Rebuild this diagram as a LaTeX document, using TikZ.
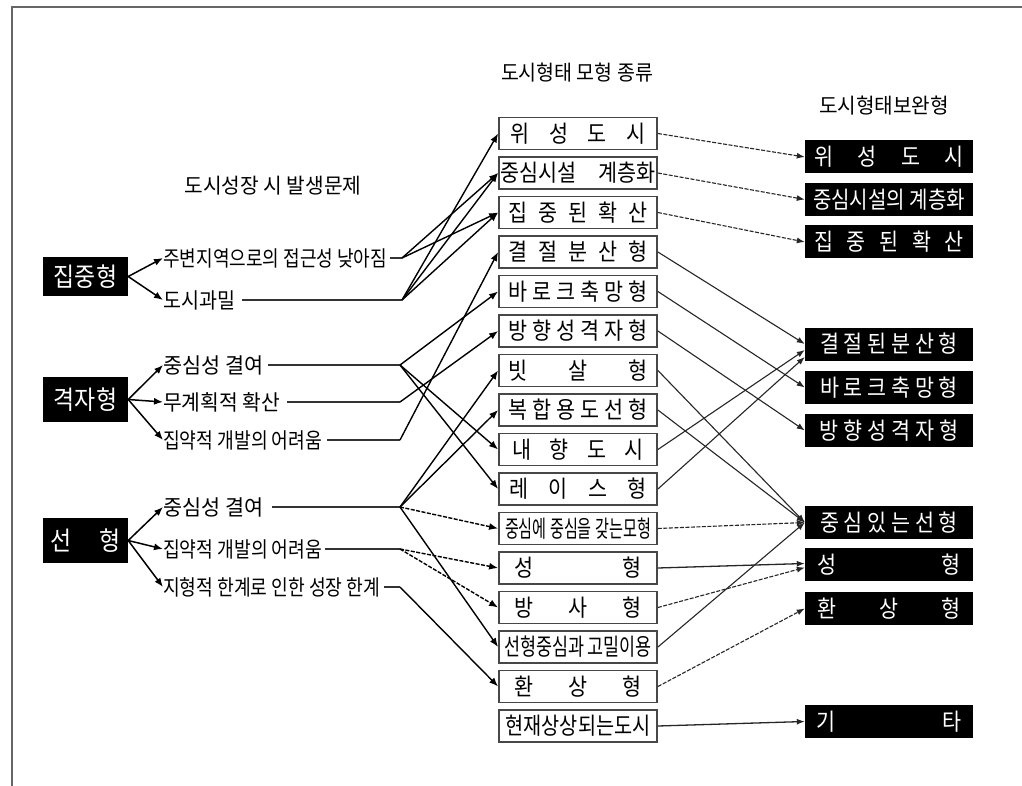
\documentclass[tikz,border=0pt]{standalone}
\usepackage{fontspec}
\usepackage{graphicx}
\setmainfont{Noto Sans CJK KR}[FakeStretch=0.88]
\usetikzlibrary{arrows.meta}
\newcommand\fw[2]{\resizebox{#1}{\height}{#2}}
\begin{document}
\begin{tikzpicture}[x=1pt,y=-1pt,
  cat/.style={fill=black,text=white,inner sep=0pt,minimum width=85pt,font=\fontsize{26}{28}\selectfont},
  prob/.style={inner sep=0pt,anchor=west,font=\fontsize{21.5}{24}\selectfont},
  ttl/.style={inner sep=0pt,font=\fontsize{21}{23}\selectfont},
  mid/.style={draw=black!72,line width=1.8pt,minimum width=158pt,minimum height=32pt,inner sep=0pt,font=\fontsize{23.5}{25}\selectfont},
  rb/.style={fill=black,text=white,minimum width=168pt,minimum height=33pt,inner sep=0pt,font=\fontsize{23.5}{25}\selectfont},
  la/.style={line width=1.5pt,-{Latex[length=9pt,width=7pt]}},
  hl/.style={line width=1.5pt,black!80},
  fa/.style={line width=1.4pt,-{Latex[length=9pt,width=7pt]}},
  ra/.style={line width=1.1pt,black!85,-{Latex[length=8pt,width=6pt]}},
  dsh/.style={dash pattern=on 4pt off 1.5pt}
]
\useasboundingbox (0,0) rectangle (1022,786);
\fill[white] (0,0) rectangle (1022,786);
\draw[black!60,line width=1.2pt] (12,786) -- (12,7) -- (1022,7);

% titles
\node[ttl] (t1) at (577,73) {\fw{152pt}{도시형태 모형 종류}};
\node[ttl] (t2) at (884,106) {\fw{130pt}{도시형태보완형}};
\node[ttl] (t3) at (273,186) {\fw{177pt}{도시성장 시 발생문제}};

% categories
\node[cat,minimum height=38pt] (c1) at (85.5,276.5) {집중형};
\node[cat,minimum height=45pt] (c2) at (85.5,399.5) {격자형};
\node[cat,minimum height=45pt] (c3) at (85.5,540.5) {\makebox[70pt]{선\hfill 형}};

% problems
\node[prob] (p1) at (163,258) {\fw{224pt}{주변지역으로의 접근성 낮아짐}};
\node[prob] (p2) at (163,300) {\fw{72pt}{도시과밀}};
\node[prob] (p3) at (163,365) {\fw{100pt}{중심성 결여}};
\node[prob] (p4) at (163,402) {\fw{117pt}{무계획적 확산}};
\node[prob] (p5) at (163,440) {\fw{159pt}{집약적 개발의 어려움}};
\node[prob] (p6) at (163,507) {\fw{100pt}{중심성 결여}};
\node[prob] (p7) at (163,549) {\fw{159pt}{집약적 개발의 어려움}};
\node[prob] (p8) at (163,587) {\fw{217pt}{지형적 한계로 인한 성장 한계}};

% junctions
\coordinate (j1) at (402,258);
\coordinate (j2) at (402,300);
\coordinate (j3) at (400,365);
\coordinate (j4) at (400,402);
\coordinate (j5) at (400,440);
\coordinate (j6) at (400,507);
\coordinate (j7) at (400,549);
\coordinate (j8) at (400,587);

% middle boxes
\node[mid] (m1) at (578,133.5) {\makebox[135pt]{위\hfill 성\hfill 도\hfill 시}};
\node[mid] (m2) at (578,173) {\makebox[155pt]{중심시설\hfill 계층화}};
\node[mid] (m3) at (578,212.5) {\makebox[139pt]{집\hfill 중\hfill 된\hfill 확\hfill 산}};
\node[mid] (m4) at (578,252) {\makebox[139pt]{결\hfill 절\hfill 분\hfill 산\hfill 형}};
\node[mid] (m5) at (578,291.5) {\makebox[139pt]{바\hfill 로\hfill 크\hfill 축\hfill 망\hfill 형}};
\node[mid] (m6) at (578,331) {\makebox[139pt]{방\hfill 향\hfill 성\hfill 격\hfill 자\hfill 형}};
\node[mid] (m7) at (578,370.5) {\makebox[140pt]{빗\hfill 살\hfill 형}};
\node[mid] (m8) at (578,410) {\makebox[140pt]{복\hfill 합\hfill 용\hfill 도\hfill 선\hfill 형}};
\node[mid] (m9) at (578,449.5) {\makebox[131pt]{내\hfill 향\hfill 도\hfill 시}};
\node[mid] (m10) at (578,489) {\makebox[137pt]{레\hfill 이\hfill 스\hfill 형}};
\node[mid] (m11) at (578,528.5) {\fw{146pt}{중심에 중심을 갖는모형}};
\node[mid] (m12) at (578,568) {\makebox[127pt]{성\hfill 형}};
\node[mid] (m13) at (578,607.5) {\makebox[127pt]{방\hfill 사\hfill 형}};
\node[mid] (m14) at (578,647) {\fw{148pt}{선형중심과 고밀이용}};
\node[mid] (m15) at (578,686.5) {\makebox[127pt]{환\hfill 상\hfill 형}};
\node[mid] (m16) at (578,726) {\fw{145pt}{현재상상되는도시}};

% right boxes
\node[rb] (r1) at (889,157) {\makebox[149pt]{위\hfill 성\hfill 도\hfill 시}};
\node[rb] (r2) at (889,199.5) {\fw{152pt}{중심시설의 계층화}};
\node[rb] (r3) at (889,242) {\makebox[150pt]{집\hfill 중\hfill 된\hfill 확\hfill 산}};
\node[rb] (r4) at (889,344) {\makebox[138pt]{결\hfill 절\hfill 된\hfill 분\hfill 산\hfill 형}};
\node[rb] (r5) at (889,387.5) {\makebox[138pt]{바\hfill 로\hfill 크\hfill 축\hfill 망\hfill 형}};
\node[rb] (r6) at (889,430.5) {\makebox[140pt]{방\hfill 향\hfill 성\hfill 격\hfill 자\hfill 형}};
\node[rb] (r7) at (889,522.5) {\makebox[138pt]{중\hfill 심\hfill 있\hfill 는\hfill 선\hfill 형}};
\node[rb] (r8) at (889,564.5) {\makebox[143pt]{성\hfill 형}};
\node[rb] (r9) at (889,608.5) {\makebox[143pt]{환\hfill 상\hfill 형}};
\node[rb] (r10) at (889,721.5) {\makebox[145pt]{기\hfill 타}};

% category -> problem arrows
\draw[la] (c1.east) -- (p1.west);
\draw[la] (c1.east) -- (p2.west);
\draw[la] (c2.east) -- (p3.west);
\draw[la] (c2.east) -- (p4.west);
\draw[la] (c2.east) -- (p5.west);
\draw[la] (c3.east) -- (p6.west);
\draw[la] (c3.east) -- (p7.west);
\draw[la] (c3.east) -- (p8.west);

% problem lines to junctions
\draw[hl] ([xshift=3pt]p1.east) -- (j1);
\draw[hl] ([xshift=7pt]p2.east) -- (j2);
\draw[hl] ([xshift=5pt]p3.east) -- (j3);
\draw[hl] ([xshift=7pt]p4.east) -- (j4);
\draw[hl] ([xshift=5pt]p5.east) -- (j5);
\draw[hl] ([xshift=9pt]p6.east) -- (j6);
\draw[hl] ([xshift=3pt]p7.east) -- (j7);
\draw[hl] ([xshift=4pt]p8.east) -- (j8);

% fans
\draw[fa] (j1) -- (m2.west);
\draw[fa] (j1) -- (m3.west);
\draw[fa] (j2) -- (m1.west);
\draw[fa] (j2) -- (m2.west);
\draw[fa] (j2) -- (m3.west);
\draw[fa] (j3) -- (m5.west);
\draw[fa] (j3) -- (m9.west);
\draw[fa] (j3) -- (m10.west);
\draw[fa] (j4) -- (m6.west);
\draw[fa] (j5) -- (m4.west);
\draw[fa] (j6) -- (m7.west);
\draw[fa] (j6) -- (m8.west);
\draw[fa,dsh] (j6) -- (m11.west);
\draw[fa] (j6) -- (m14.west);
\draw[fa,dsh] (j7) -- (m12.west);
\draw[fa,dsh] (j7) -- (m13.west);
\draw[fa] (j8) -- (m15.west);

% middle -> right
\draw[ra,dsh] (m1.east) -- (r1.west);
\draw[ra,dsh] (m2.east) -- (r2.west);
\draw[ra,dsh] (m3.east) -- (r3.west);
\draw[ra] (m4.east) -- (r4.west);
\draw[ra] (m5.east) -- (r5.west);
\draw[ra] (m6.east) -- (r6.west);
\draw[ra] (m7.east) -- (r7.west);
\draw[ra] (m8.east) -- (r7.west);
\draw[ra] (m9.east) -- ([yshift=-6pt]r4.west);
\draw[ra] (m10.east) -- ([yshift=-13pt]r4.west);
\draw[ra,dsh] (m11.east) -- (r7.west);
\draw[ra,line width=1.3pt] (m12.east) -- ([yshift=1pt]r8.west);
\draw[ra,dsh] (m13.east) -- ([yshift=-3pt]r8.west);
\draw[ra] (m14.east) -- (r7.west);
\draw[ra,dsh] (m15.east) -- (r9.west);
\draw[ra,line width=1.3pt] (m16.east) -- (r10.west);
\end{tikzpicture}
\end{document}
